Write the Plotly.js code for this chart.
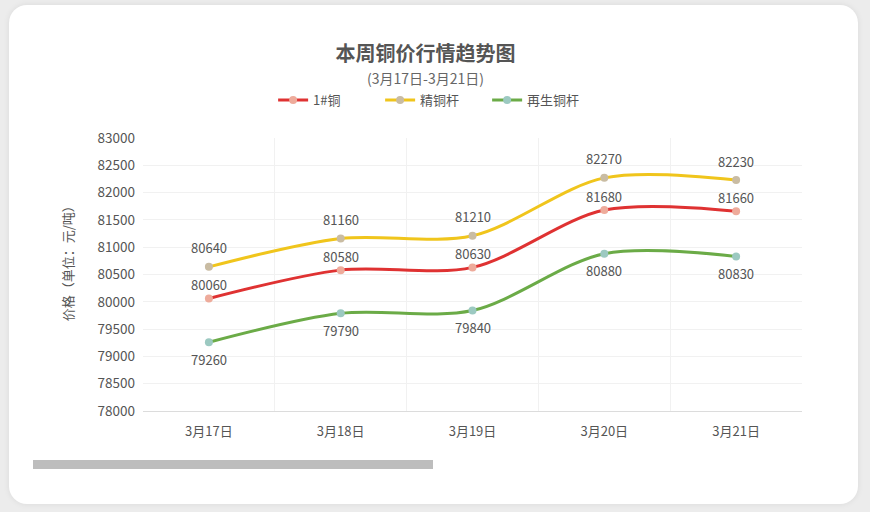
<!DOCTYPE html>
<html>
<head>
<meta charset="utf-8">
<script src="https://cdn.plot.ly/plotly-3.0.1.min.js"></script>
<style>
  html, body { margin: 0; padding: 0; background: #ececec; }
  #card {
    position: absolute; left: 9px; top: 5px; width: 849px; height: 499px;
    background: #fff; border-radius: 18px;
    box-shadow: 0 0 6px rgba(0,0,0,0.08);
  }
  #bar {
    position: absolute; left: 33px; top: 460px; width: 400px; height: 9px;
    background: #bdbdbd;
  }
  #chart { position: absolute; left: 0; top: 0; width: 870px; height: 512px; }
</style>
</head>
<body>
<div id="card"></div>
<div id="bar"></div>
<div id="chart"></div>
<script>
// 本周铜价 (元/吨)
var days = ['3月17日', '3月18日', '3月19日', '3月20日', '3月21日'];
var copper1 = [80060, 80580, 80630, 81680, 81660];
var rodFine = [80640, 81160, 81210, 82270, 82230];
var rodRecycled = [79260, 79790, 79840, 80880, 80830];
var yTicks = [78000, 78500, 79000, 79500, 80000, 80500, 81000, 81500, 82000, 82500, 83000];

var font = '"Noto Sans CJK SC", "Noto Sans", sans-serif';

function line(name, ys, color, markerColor) {
  return {
    x: days, y: ys, name: name, type: 'scatter', mode: 'lines+markers',
    line: { color: color, width: 3, shape: 'spline', smoothing: 0.9 },
    marker: { color: markerColor, size: 8 },
    hoverinfo: 'x+y'
  };
}

var traces = [
  line('1#铜', copper1, '#df3232', '#eeab9b'),
  line('精铜杆', rodFine, '#f0c51c', '#c9bca3'),
  line('再生铜杆', rodRecycled, '#6bab47', '#9cc9c1')
];

// data labels
var labels = [];
function addLabels(ys, shift) {
  ys.forEach(function (v, i) {
    labels.push({
      x: days[i], y: v, text: String(v), showarrow: false,
      yshift: shift, font: { family: font, size: 13, color: '#555' }
    });
  });
}
addLabels(copper1, 14);
addLabels(rodFine, 19);
addLabels(rodRecycled, -17);

labels.push({
  xref: 'paper', yref: 'paper', x: 0.429, y: 1.22, xanchor: 'center', yanchor: 'middle',
  text: '(3月17日-3月21日)', showarrow: false,
  font: { family: font, size: 14, color: '#666' }
});
labels.push({
  xref: 'paper', yref: 'paper', x: -0.115, y: 0.553, xanchor: 'center', yanchor: 'middle',
  text: '价格（单位：元/吨）', showarrow: false, textangle: -90,
  font: { family: font, size: 13, color: '#555' }
});

var layout = {
  width: 870, height: 512,
  margin: { l: 143, r: 68, t: 138, b: 101 },
  paper_bgcolor: 'rgba(0,0,0,0)',
  plot_bgcolor: 'rgba(0,0,0,0)',
  font: { family: font, size: 12, color: '#555' },
  title: {
    text: '本周铜价行情趋势图',
    x: 0.489, xanchor: 'center', y: 0.894, yanchor: 'middle',
    font: { family: font, size: 20, color: '#555', weight: 'bold' }
  },
  showlegend: true,
  legend: {
    orientation: 'h', x: 0.441, xanchor: 'center', y: 1.139, yanchor: 'middle',
    font: { family: font, size: 13, color: '#555' },
    itemwidth: 30, entrywidth: 62, bgcolor: 'rgba(0,0,0,0)'
  },
  xaxis: {
    type: 'category', range: [-0.5, 4.5], tickson: 'boundaries',
    showgrid: true, gridcolor: '#f1f1f1', gridwidth: 1,
    showline: true, linecolor: '#dcdcdc', linewidth: 1,
    ticks: '', ticklabelstandoff: 8,
    tickfont: { family: font, size: 13, color: '#555' },
    fixedrange: true
  },
  yaxis: {
    range: [78000, 83000], tickvals: yTicks, ticktext: yTicks.map(String),
    showgrid: true, gridcolor: '#f1f1f1', gridwidth: 1,
    zeroline: false, showline: false, ticks: '', ticklabelstandoff: 7,
    tickfont: { family: font, size: 13.5, color: '#555' },
    fixedrange: true
  },
  annotations: labels
};

Plotly.newPlot('chart', traces, layout, { displayModeBar: false, staticPlot: true });
</script>
</body>
</html>
